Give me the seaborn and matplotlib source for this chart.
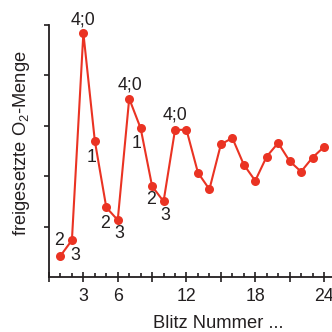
import numpy as np
import pandas as pd
import matplotlib
matplotlib.use("Agg")
import matplotlib.pyplot as plt
from matplotlib.ticker import MultipleLocator, FixedLocator
import seaborn as sns

# --- data ---
flash_no = list(range(1, 25))
o2_amount = [0.42, 0.73, 4.84, 2.70, 1.38, 1.13, 3.54, 2.95, 1.80, 1.50,
             2.92, 2.92, 2.07, 1.74, 2.63, 2.76, 2.23, 1.91, 2.39, 2.66,
             2.30, 2.09, 2.37, 2.58]
state_labels = ["2", "3", "4;0", "1", "2", "3", "4;0", "1", "2", "3", "4;0"]
state_flash = [1, 2, 3, 4, 5, 6, 7, 8, 9, 10, 11]
x_tick_labels = ["3", "6", "12", "18", "24"]
x_tick_pos = [3, 6, 12, 18, 24]

df = pd.DataFrame({"flash": flash_no, "o2": o2_amount})

# --- style ---
sns.set_theme(style="ticks")
plt.rcParams["font.family"] = ["Liberation Sans", "DejaVu Sans"]
plt.rcParams["mathtext.fontset"] = "custom"
plt.rcParams["mathtext.rm"] = "Liberation Sans"
plt.rcParams["mathtext.it"] = "Liberation Sans"

RED = "#ea3323"
INK = "#231f20"

fig = plt.figure(figsize=(3.32, 3.32), dpi=100)
ax = fig.add_axes([49 / 332, 55 / 332, 283 / 332, 252 / 332])

sns.lineplot(data=df, x="flash", y="o2", ax=ax, color=RED, linewidth=1.5,
             marker="o", markersize=6.5, markeredgewidth=0)

# state labels, offsets in pixels from the point
offsets = [(-1.5, 15.5), (3, -15.5), (0, 13.5), (-3, -17), (-1.5, -16),
           (1.5, -13.5), (0.5, 13.5), (-4, -15), (-1.5, -13.5), (1.5, -14),
           (-0.5, 15)]
for lab, fl, off in zip(state_labels, state_flash, offsets):
    ax.annotate(lab, xy=(fl, o2_amount[fl - 1]), xytext=off,
                textcoords="offset pixels", ha="center", va="center",
                fontsize=12.8, color=INK)

ax.set_xlim(0, 24.7)
ax.set_ylim(0, 5)
ax.xaxis.set_major_locator(MultipleLocator(3))
ax.xaxis.set_minor_locator(MultipleLocator(1))
ax.set_xticklabels([])
ax.yaxis.set_major_locator(FixedLocator([1, 2, 3, 4, 5]))
ax.set_yticklabels([])
ax.tick_params(axis="x", which="major", direction="inout", length=7.5,
               width=1.2, color=INK)
ax.tick_params(axis="x", which="minor", direction="in", length=3,
               width=1.2, color=INK)
ax.tick_params(axis="y", which="major", direction="out", length=3.5,
               width=1.2, color=INK)

for pos, lab in zip(x_tick_pos, x_tick_labels):
    ax.text(pos, -0.39, lab, ha="center", va="center", fontsize=12.8,
            color=INK, transform=ax.transData)

sns.despine(ax=ax)
ax.spines["left"].set_linewidth(1.3)
ax.spines["bottom"].set_linewidth(1.3)
ax.spines["left"].set_color(INK)
ax.spines["bottom"].set_color(INK)

ax.set_xlabel("")
ax.set_ylabel("")
fig.text(218 / 332, 1 - 323.5 / 332, "Blitz Nummer ...", ha="center",
         va="center", fontsize=13.2, color=INK)
fig.text(21.5 / 332, 1 - 143 / 332, r"freigesetzte O$_2$-Menge", ha="center",
         va="center", rotation=90, fontsize=13.2, color=INK)

fig.savefig("out.png", dpi=100)
